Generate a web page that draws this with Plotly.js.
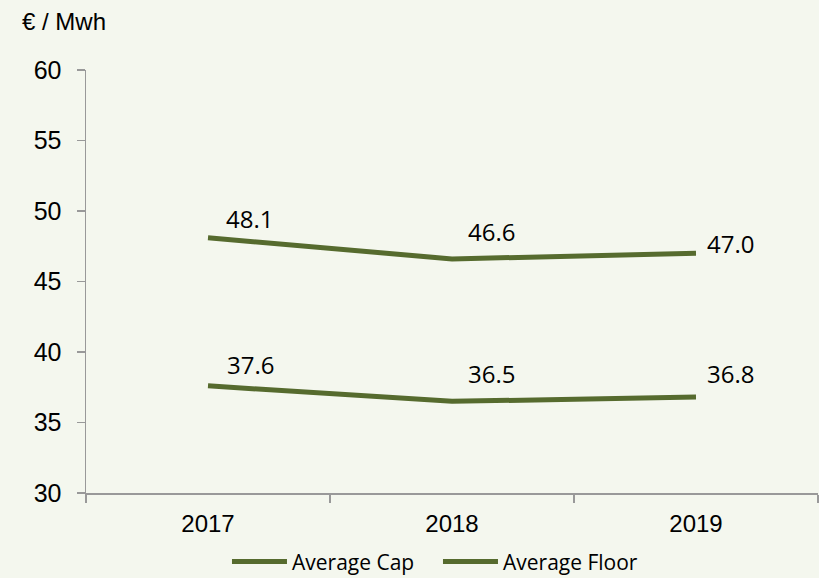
<!DOCTYPE html>
<html><head><meta charset="utf-8">
<script src="https://cdn.plot.ly/plotly-3.0.1.min.js"></script>
<style>html,body{margin:0;padding:0;background:#F4F7EE;}</style>
</head><body><div id="chart" style="width:819px;height:578px;"></div>
<script>
// ---- data ----
const years = ['2017', '2018', '2019'];
const averageCap = [48.1, 46.6, 47.0];
const averageFloor = [37.6, 36.5, 36.8];
const yTickValues = [30, 35, 40, 45, 50, 55, 60];
const seriesNames = ['Average Cap', 'Average Floor'];
const unitLabel = '€ / Mwh';

// ---- style ----
const lineColor = '#566B2E';
const axisColor = '#999999';
const bg = '#F4F7EE';
// label offsets in pixels [dx, dy-up] per point
const capShift = [[41, 19], [39, 27], [34, 10]];
const floorShift = [[42, 21], [39, 28], [34, 24]];

const traces = [
  {x: years, y: averageCap, name: seriesNames[0], type: 'scatter', mode: 'lines',
   line: {color: lineColor, width: 5}},
  {x: years, y: averageFloor, name: seriesNames[1], type: 'scatter', mode: 'lines',
   line: {color: lineColor, width: 5}}
];

const labelFont = {family: 'Open Sans', size: 24, color: '#000'};
const annotations = [];
[[averageCap, capShift], [averageFloor, floorShift]].forEach(([vals, shifts]) => {
  vals.forEach((v, i) => {
    // on a category axis a number is the category index
    annotations.push({x: years.indexOf(years[i]), y: v, xref: 'x', yref: 'y', text: v.toFixed(1),
      showarrow: false, xanchor: 'center', yanchor: 'middle',
      xshift: shifts[i][0], yshift: shifts[i][1], font: labelFont});
  });
});
annotations.push({xref: 'paper', yref: 'paper', x: -0.09, y: 1.115, xanchor: 'left', yanchor: 'middle',
  text: unitLabel, showarrow: false, font: {family: 'Liberation Sans', size: 24, color: '#000'}});

const layout = {
  width: 819, height: 578,
  paper_bgcolor: bg, plot_bgcolor: bg,
  margin: {l: 86, r: 1, t: 70, b: 85, pad: 0, autoexpand: false},
  showlegend: true,
  legend: {orientation: 'h', x: 0.1926, xanchor: 'left', y: -0.163, yanchor: 'middle',
    itemwidth: 55, entrywidth: 141, entrywidthmode: 'pixels',
    font: {family: 'Open Sans', size: 21, color: '#000'}, bgcolor: 'rgba(0,0,0,0)'},
  xaxis: {type: 'category', range: [-0.5, years.length - 0.5], autorange: false,
    showline: true, linecolor: axisColor, linewidth: 1.5,
    ticks: 'outside', tickson: 'boundaries', ticklen: 8, tickcolor: axisColor, tickwidth: 1.5,
    showgrid: false, zeroline: false, ticklabelstandoff: 9, tickangle: 0,
    tickfont: {family: 'Liberation Sans', size: 24, color: '#000'}},
  yaxis: {range: [30, 60], autorange: false, tickvals: yTickValues, showline: true, linecolor: axisColor, linewidth: 1.5,
    ticks: 'outside', ticklen: 8, tickcolor: axisColor, tickwidth: 1.5, showgrid: false, zeroline: false,
    ticklabelstandoff: 10,
    tickfont: {family: 'Liberation Sans', size: 25, color: '#000'}},
  annotations: annotations
};

Plotly.newPlot('chart', traces, layout, {displayModeBar: false, staticPlot: true});
</script></body></html>
